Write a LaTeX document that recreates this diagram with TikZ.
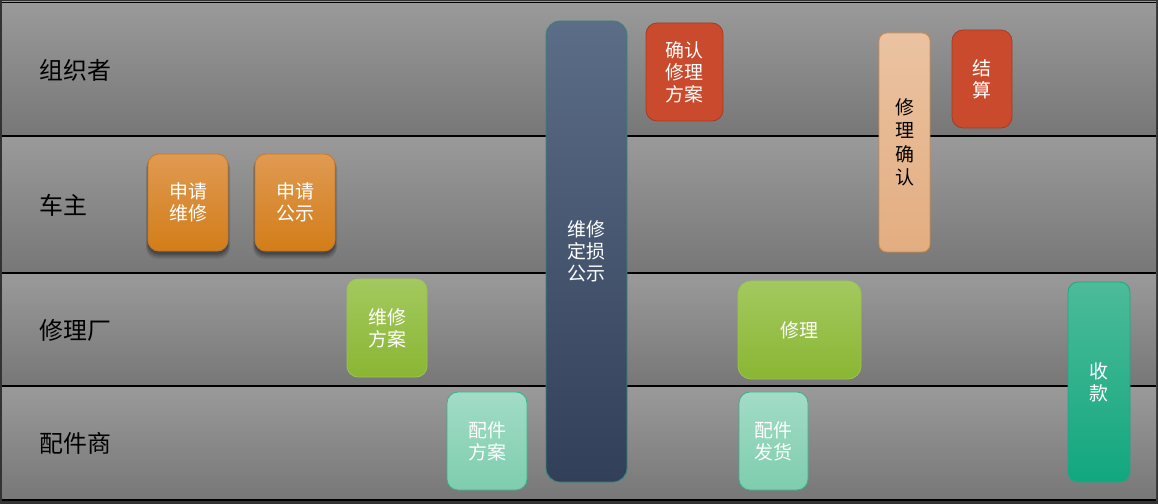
\documentclass[tikz,border=0pt]{standalone}
\usepackage{fontspec}
\newfontfamily\cjk{Noto Sans CJK SC}
\usetikzlibrary{shadows}
\definecolor{frameC}{HTML}{333333}
\definecolor{laneTop}{HTML}{9A9A9A}
\definecolor{laneBot}{HTML}{777777}
\definecolor{orT}{HTML}{E09A52}\definecolor{orB}{HTML}{D27D18}\definecolor{orD}{HTML}{C87A2A}
\definecolor{rdF}{HTML}{C94A2C}\definecolor{rdD}{HTML}{A33C25}
\definecolor{blT}{HTML}{5C6D87}\definecolor{blB}{HTML}{323F58}\definecolor{blD}{HTML}{2E8B76}
\definecolor{pcT}{HTML}{EBC3A2}\definecolor{pcB}{HTML}{E3AD80}\definecolor{pcD}{HTML}{DD8B3C}
\definecolor{grT}{HTML}{A3C95F}\definecolor{grB}{HTML}{8AB633}\definecolor{grD}{HTML}{9CC450}
\definecolor{mtT}{HTML}{A2DCC6}\definecolor{mtB}{HTML}{7ECDAE}\definecolor{mtD}{HTML}{35B38E}
\definecolor{tlT}{HTML}{4CBB99}\definecolor{tlB}{HTML}{12A77F}\definecolor{tlD}{HTML}{20A882}
\tikzset{
  lanebg/.style={top color=laneTop, bottom color=laneBot, draw=none},
  laneline/.style={line width=1.5bp, black},
  lanelabel/.style={anchor=west, inner sep=0, font=\cjk\fontsize{24}{28}\selectfont, text=black},
  box/.style={rounded corners=11bp, line width=0.8bp, inner sep=0, align=center, text=white,
              font=\cjk\fontsize{19}{22}\selectfont},
  orangebox/.style={box, top color=orT, bottom color=orB, draw=orD,
              drop shadow={opacity=0.12, shadow xshift=0bp, shadow yshift=-5bp, shadow scale=1.05, fill=black},
              drop shadow={opacity=0.15, shadow xshift=0bp, shadow yshift=-4bp, shadow scale=1.03, fill=black},
              drop shadow={opacity=0.2, shadow xshift=0bp, shadow yshift=-3bp, shadow scale=1.01, fill=black}},
  redbox/.style={box, fill=rdF, draw=rdD},
  bluebox/.style={box, top color=blT, bottom color=blB, draw=blD, rounded corners=14bp},
  peachbox/.style={box, top color=pcT, bottom color=pcB, draw=pcD, text=black, rounded corners=8bp,
              font=\cjk\fontsize{19}{23.5}\selectfont},
  greenbox/.style={box, top color=grT, bottom color=grB, draw=grD},
  mintbox/.style={box, top color=mtT, bottom color=mtB, draw=mtD},
  tealbox/.style={box, top color=tlT, bottom color=tlB, draw=tlD, rounded corners=10bp},
}
\begin{document}
\begin{tikzpicture}[x=1bp,y=-1bp]
\useasboundingbox (0,0) rectangle (1158,504);
\fill[frameC] (0,0) rectangle (1158,504);
% lanes
\shade[lanebg] (2,2) rectangle (1156,136);
\shade[lanebg] (2,136) rectangle (1156,273);
\shade[lanebg] (2,273) rectangle (1156,386);
\shade[lanebg] (2,386) rectangle (1156,500);
\draw[laneline] (2,2.5) -- (1156,2.5);
\draw[laneline] (2,136) -- (1156,136);
\draw[laneline] (2,273) -- (1156,273);
\draw[laneline] (2,386) -- (1156,386);
\draw[laneline] (2,500) -- (1156,500);
% lane labels
\node[lanelabel] (l1) at (39,70) {组织者};
\node[lanelabel] (l2) at (39,205) {车主};
\node[lanelabel] (l3) at (39,330) {修理厂};
\node[lanelabel] (l4) at (39,443) {配件商};
% boxes
\node[orangebox, minimum width=80bp, minimum height=97bp] (sqwx) at (188,202.5) {申请\\维修};
\node[orangebox, minimum width=80bp, minimum height=97bp] (sqgs) at (295,202.5) {申请\\公示};
\node[bluebox, minimum width=81bp, minimum height=461bp] (wxds) at (586.5,251.5) {维修\\定损\\公示};
\node[redbox, minimum width=77bp, minimum height=98bp] (qrfa) at (684.5,72) {确认\\修理\\方案};
\node[peachbox, minimum width=51bp, minimum height=219bp] (xlqr) at (904.5,142.5) {修\\理\\确\\认};
\node[redbox, minimum width=60bp, minimum height=98bp] (js) at (982,79) {结\\算};
\node[greenbox, minimum width=80bp, minimum height=98bp] (wxfa) at (387,328) {维修\\方案};
\node[greenbox, minimum width=123bp, minimum height=98bp, rounded corners=13bp] (xl) at (799.5,330) {修理};
\node[mintbox, minimum width=80bp, minimum height=98bp] (pjfa) at (487,441) {配件\\方案};
\node[mintbox, minimum width=69bp, minimum height=98bp] (pjfh) at (773.5,441) {配件\\发货};
\node[tealbox, minimum width=62bp, minimum height=200bp] (sk) at (1099,382) {收\\款};
\end{tikzpicture}
\end{document}
